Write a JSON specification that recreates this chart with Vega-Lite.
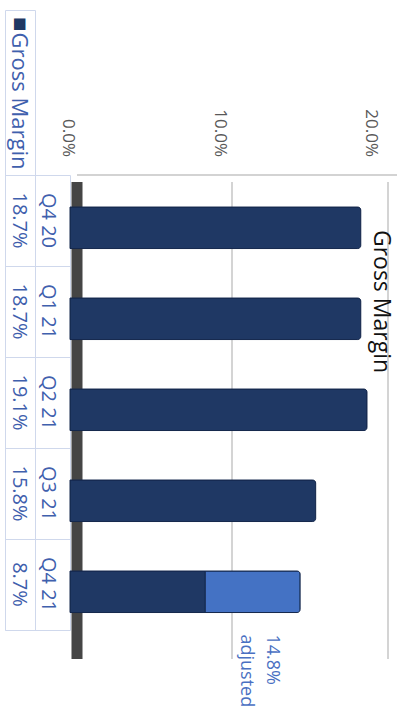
{
  "$schema": "https://vega.github.io/schema/vega-lite/v6.json",
  "autosize": "none",
  "width": 327,
  "height": 477,
  "padding": {"left": 70, "top": 175, "right": 0, "bottom": 67},
  "background": "white",
  "config": {
    "font": "Open Sans",
    "view": {"stroke": null}
  },
  "datasets": {
    "bars": [
      {"period": "Q4 20", "series": "Gross Margin", "value": 0.187},
      {"period": "Q1 21", "series": "Gross Margin", "value": 0.187},
      {"period": "Q2 21", "series": "Gross Margin", "value": 0.191},
      {"period": "Q3 21", "series": "Gross Margin", "value": 0.158},
      {"period": "Q4 21", "series": "Gross Margin", "value": 0.087},
      {"period": "Q4 21", "series": "Adjustment", "value": 0.061, "note": "14.8%\nadjusted"}
    ],
    "table": [
      {"cell": "Q4 20|18.7%"},
      {"cell": "Q1 21|18.7%"},
      {"cell": "Q2 21|19.1%"},
      {"cell": "Q3 21|15.8%"},
      {"cell": "Q4 21|8.7%"}
    ],
    "header": [{"cell": "Gross Margin"}]
  },
  "resolve": {"scale": {"y": "independent"}, "axis": {"y": "independent"}},
  "layer": [
    {
      "data": {"name": "table"},
      "mark": {"type": "point", "opacity": 0},
      "encoding": {
        "y": {
          "field": "cell",
          "type": "nominal",
          "sort": null,
          "scale": {"type": "band", "range": [0, 455], "paddingInner": 0, "paddingOuter": 0},
          "axis": {
            "orient": "left",
            "offset": 0,
            "domain": true,
            "domainColor": "#cfd8ec",
            "domainWidth": 1,
            "ticks": true,
            "tickSize": 65,
            "tickColor": "#cfd8ec",
            "tickWidth": 1,
            "bandPosition": 1,
            "tickExtra": true,
            "grid": false,
            "labelExpr": "datum.value ? split(datum.value, '|') : ''",
            "labelAngle": 90,
            "labelAlign": "center",
            "labelBaseline": "top",
            "labelPadding": -52,
            "labelFontSize": 20,
            "labelLineHeight": 29,
            "labelColor": "#3f60ad",
            "labelFont": "Open Sans",
            "labelLimit": 0,
            "title": "■",
            "titleAngle": 0,
            "titleX": -51,
            "titleY": -153,
            "titleAlign": "center",
            "titleBaseline": "middle",
            "titleFontSize": 15,
            "titleFontWeight": "normal",
            "titleColor": "#1f3864",
            "titleFont": "DejaVu Sans"
          }
        }
      }
    },
    {
      "data": {"name": "header"},
      "mark": {"type": "point", "opacity": 0},
      "encoding": {
        "y": {
          "field": "cell",
          "type": "nominal",
          "scale": {"type": "band", "range": [-165, 455], "paddingInner": 0, "paddingOuter": 0},
          "axis": {
            "orient": "left",
            "offset": 35,
            "domain": true,
            "domainColor": "#cfd8ec",
            "ticks": true,
            "tickSize": 30,
            "tickColor": "#cfd8ec",
            "bandPosition": 1,
            "tickExtra": true,
            "labels": false,
            "grid": false,
            "title": null
          }
        }
      }
    },
    {
      "data": {"name": "header"},
      "mark": {"type": "point", "opacity": 0},
      "encoding": {
        "y": {
          "field": "cell",
          "type": "nominal",
          "scale": {"type": "band", "range": [-165, 455], "paddingInner": 0, "paddingOuter": 0},
          "axis": {
            "orient": "left",
            "offset": 65,
            "domain": true,
            "domainColor": "#cfd8ec",
            "ticks": false,
            "labels": false,
            "grid": false,
            "title": "Gross Margin",
            "titleAngle": 90,
            "titleX": 375,
            "titleY": 126,
            "titleAlign": "center",
            "titleBaseline": "middle",
            "titleFontSize": 23,
            "titleFontWeight": "normal",
            "titleColor": "#111111",
            "titleFont": "Open Sans"
          }
        }
      }
    },
    {
      "data": {"name": "bars"},
      "layer": [
        {
          "mark": {"type": "bar", "stroke": "#15284d", "strokeWidth": 1, "cornerRadiusEnd": 3},
          "encoding": {
            "x": {
              "field": "value",
              "type": "quantitative",
              "stack": "zero",
              "scale": {"domain": [0, 0.2103], "nice": false, "zero": true},
              "axis": {
                "orient": "top",
                "values": [0, 0.1, 0.2],
                "format": ".1%",
                "translate": 7,
                "offset": 7,
                "labelAngle": 90,
                "labelAlign": "right",
                "labelBaseline": "middle",
                "labelFontSize": 17,
                "labelColor": "#595959",
                "labelFont": "Open Sans",
                "labelPadding": 18,
                "labelFlush": false,
                "labelOverlap": false,
                "labelOffset": {"condition": [{"test": "datum.value === 0", "value": -9}, {"test": "datum.value > 0.15", "value": -17}], "value": -12},
                "ticks": false,
                "domain": true,
                "domainColor": "#c4c4c4",
                "domainWidth": 1.5,
                "grid": true,
                "gridColor": {"condition": {"test": "datum.value === 0", "value": "#454545"}, "value": "#c6c6c6"},
                "gridWidth": {"condition": {"test": "datum.value === 0", "value": 11}, "value": 1.5},
                "title": "Gross Margin",
                "titleAngle": 90,
                "titleX": -58,
                "titleY": -74,
                "titleAlign": "center",
                "titleBaseline": "middle",
                "titleFontSize": 22,
                "titleFontWeight": "normal",
                "titleColor": "#3f60ad",
                "titleFont": "Open Sans"
              }
            },
            "y": {
              "field": "period",
              "type": "nominal",
              "sort": null,
              "scale": {"paddingInner": 0.544, "paddingOuter": 0.393, "align": 0.448},
              "axis": null
            },
            "color": {
              "field": "series",
              "type": "nominal",
              "scale": {"domain": ["Gross Margin", "Adjustment"], "range": ["#1f3864", "#4472c4"]},
              "legend": null
            },
            "order": {"field": "series", "sort": "descending"}
          }
        },
        {
          "mark": {
            "type": "text",
            "angle": 90,
            "align": "left",
            "baseline": "middle",
            "lineBreak": "\n",
            "lineHeight": 26,
            "dx": 22,
            "dy": -19,
            "fontSize": 18,
            "font": "Open Sans",
            "color": "#4a70c2"
          },
          "encoding": {
            "x": {"field": "value", "type": "quantitative", "stack": "zero", "bandPosition": 0.5},
            "y": {"field": "period", "type": "nominal", "sort": null, "bandPosition": 1},
            "detail": {"field": "series"},
            "order": {"field": "series", "sort": "descending"},
            "text": {"condition": {"test": "datum.note", "field": "note"}, "value": ""}
          }
        }
      ]
    }
  ]
}
